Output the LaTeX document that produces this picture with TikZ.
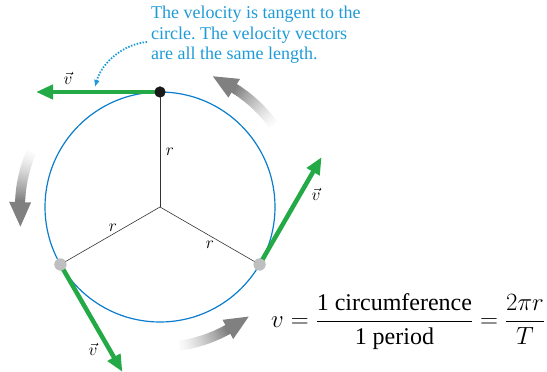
\documentclass[tikz,border=0pt]{standalone}
\usepackage{amsmath}
\usepackage{fontspec}
\setmainfont{Liberation Serif}
\usetikzlibrary{arrows.meta,calc}
\definecolor{cblue}{RGB}{10,125,205}
\definecolor{tblue}{RGB}{30,155,215}
\definecolor{vgreen}{RGB}{35,170,70}
\frenchspacing
\newcommand{\gradarrow}[2]{% #1 = tail angle, #2 = tip angle
  \pgfmathsetmacro{\hb}{#2-10}
  \foreach \i in {0,...,24}{
    \pgfmathsetmacro{\aa}{#1+(\hb-#1)*\i/25}
    \pgfmathsetmacro{\ab}{#1+(\hb-#1)*(\i+1.3)/25}
    \pgfmathsetmacro{\cc}{2+48*(\i/24)^1.3}
    \draw[line width=10pt, color=black!\cc] ($(O)+(\aa:140)$) arc[start angle=\aa, end angle=\ab, radius=140];
  }
  \fill[black!50] ($(O)+(\hb:129)$) -- ($(O)+(\hb:151)$) -- ($(O)+(#2:141)$) -- cycle;
}
\begin{document}
\begin{tikzpicture}[x=1pt,y=1pt,
  vec/.style={line width=4.5pt, vgreen, -{Triangle[length=17pt,width=14pt]}},
  radius line/.style={line width=0.6pt, black!80},
  lbl/.style={font=\fontsize{16}{18}\selectfont, inner sep=1pt},
  gdot/.style={circle, fill=black!25, minimum size=12pt, inner sep=0pt},
  bdot/.style={circle, fill=black!90, minimum size=11pt, inner sep=0pt}]
\useasboundingbox (0,0) rectangle (547,372);
\coordinate (O) at (160,165);
% gray motion arrows
\gradarrow{36}{68}
\gradarrow{157}{188}
\gradarrow{-82}{-51}
% circle
\draw[cblue, line width=1.2pt] (O) circle[radius=115];
% points
\node[bdot] (P1) at ($(O)+(90:115)$) {};
\node[gdot] (P2) at ($(O)+(210:115)$) {};
\node[gdot] (P3) at ($(O)+(330:115)$) {};
% radii
\draw[radius line] (O) -- (P1.center);
\draw[radius line] (O) -- (P2.center);
\draw[radius line] (O) -- (P3.center);
% velocity vectors
\coordinate (V1) at ($(P1.center)+(180:124)$);
\coordinate (V2) at ($(P2.center)+(300:124)$);
\coordinate (V3) at ($(P3.center)+(60:124)$);
\draw[vec] (P1.center) -- (V1);
\draw[vec] (P2.center) -- (V2);
\draw[vec] (P3.center) -- (V3);
\node[bdot] at (P1) {};
\node[gdot] at (P2) {};
\node[gdot] at (P3) {};
% labels
\node[lbl] (r1) at (170,220) {$r$};
\node[lbl] (r2) at (113,144) {$r$};
\node[lbl] (r3) at (210,127) {$r$};
\node[lbl] (v1) at (68,294) {$\vec{v}$};
\node[lbl] (v2) at (316,178) {$\vec{v}$};
\node[lbl] (v3) at (93,23) {$\vec{v}$};
% annotation
\node[anchor=north west, align=left, text=tblue, inner sep=0pt,
  font=\fontsize{18}{20.5}\selectfont] (ann) at (151,366)
  {The velocity is tangent to the\\circle. The velocity vectors\\are all the same length.};
\coordinate (a0) at (147,330);
\coordinate (a1) at (95,285);
\draw[tblue, line width=1.8pt, dash pattern=on 1.5pt off 1.5pt,
  -{Latex[length=7pt,width=6pt]}] (a0) .. controls (124,328) and (102,310) .. (a1);
% equation
\node[anchor=west, inner sep=0pt, font=\fontsize{24}{28}\selectfont] (eq) at (271,50)
  {$v = \dfrac{\text{1 circumference}}{\text{1 period}} = \dfrac{2\pi r}{T}$};
\end{tikzpicture}
\end{document}
